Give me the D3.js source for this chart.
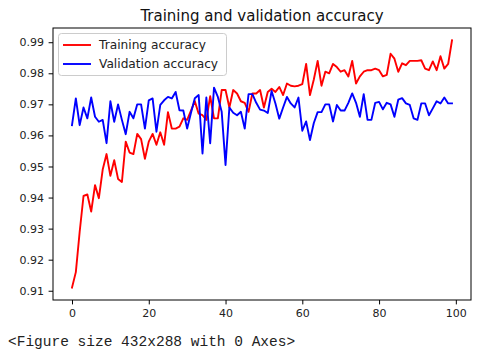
<!DOCTYPE html>
<html><head><meta charset="utf-8">
<script src="https://cdn.jsdelivr.net/npm/d3@7"></script>
<style>
html,body{margin:0;padding:0;background:#fff;}
svg{display:block;}
</style></head>
<body>
<svg id="chart" width="486" height="357"></svg>
<script>
const epochs = d3.range(100);
const trainingAccuracy = [
0.911,0.916,0.929,0.9405,0.941,0.9355,0.944,0.9398,0.949,0.954,
0.947,0.952,0.946,0.945,0.958,0.9545,0.954,0.9605,0.9588,0.9525,
0.958,0.9605,0.957,0.961,0.957,0.9675,0.9622,0.9622,0.9628,0.9655,
0.965,0.968,0.971,0.967,0.9665,0.965,0.9726,0.9655,0.9655,0.9746,
0.9746,0.969,0.9746,0.9735,0.971,0.9705,0.9676,0.9735,0.9735,0.9746,
0.969,0.974,0.975,0.974,0.9756,0.973,0.9767,0.976,0.9758,0.976,
0.9765,0.983,0.973,0.978,0.984,0.976,0.9805,0.980,0.983,0.982,
0.9805,0.981,0.979,0.984,0.9767,0.979,0.9805,0.981,0.981,0.9815,
0.981,0.979,0.9795,0.9863,0.9847,0.9805,0.9832,0.9826,0.984,0.984,
0.984,0.9842,0.9815,0.981,0.9838,0.981,0.9855,0.9815,0.983,0.9906];
const validationAccuracy = [
0.9633,0.9719,0.9633,0.969,0.9655,0.9722,0.966,0.9644,0.965,0.9575,
0.971,0.9644,0.970,0.965,0.9604,0.9676,0.9655,0.970,0.970,0.9622,
0.9713,0.9719,0.9612,0.9698,0.9713,0.9724,0.9719,0.974,0.9681,0.968,
0.9622,0.9673,0.972,0.973,0.9542,0.9722,0.9575,0.9754,0.9724,0.9676,
0.9505,0.969,0.9673,0.9665,0.9676,0.9622,0.9733,0.9733,0.9705,0.9683,
0.968,0.9672,0.9743,0.9703,0.9654,0.969,0.9724,0.9703,0.969,0.9722,
0.9615,0.9645,0.9585,0.964,0.9675,0.9675,0.970,0.970,0.9645,0.9698,
0.968,0.968,0.9705,0.9735,0.9705,0.966,0.9733,0.965,0.965,0.9705,
0.9708,0.9684,0.9705,0.970,0.966,0.9715,0.972,0.9703,0.9698,0.9655,
0.965,0.9703,0.9703,0.9665,0.9687,0.971,0.9703,0.9722,0.9703,0.9703];
const xTicks = [0,20,40,60,80,100];
const yTicks = [0.91,0.92,0.93,0.94,0.95,0.96,0.97,0.98,0.99];
const seriesNames = ["Training accuracy","Validation accuracy"];
const seriesColors = ["#ff0000","#0000ff"];
const titleText = "Training and validation accuracy";
const footerText = "<Figure size 432x288 with 0 Axes>";

const svg = d3.select("#chart");
const L = 53, R = 471, T = 28, B = 300;
const font = "'DejaVu Sans', sans-serif";

const xPad = (99 - 0) * 0.05;
const x = d3.scaleLinear().domain([0 - xPad, 99 + xPad]).range([L, R]);
const all = trainingAccuracy.concat(validationAccuracy);
const yMin = d3.min(all), yMax = d3.max(all), yPad = (yMax - yMin) * 0.05;
const y = d3.scaleLinear().domain([yMin - yPad, yMax + yPad]).range([B, T]);

// lines
const line = d3.line().x((d, i) => x(epochs[i])).y(d => y(d));
[trainingAccuracy, validationAccuracy].forEach((s, k) => {
  svg.append("path").datum(s).attr("d", line)
    .attr("fill", "none").attr("stroke", seriesColors[k])
    .attr("stroke-width", 1.9).attr("stroke-linejoin", "round").attr("stroke-linecap", "square");
});

// axes
const xAxis = d3.axisBottom(x).tickValues(xTicks).tickSize(4.4).tickPadding(4.5).tickFormat(d3.format("d"));
const yAxis = d3.axisLeft(y).tickValues(yTicks).tickSize(4.4).tickPadding(4.5).tickFormat(d3.format(".2f"));
const gx = svg.append("g").attr("transform", `translate(0,${B})`).call(xAxis);
const gy = svg.append("g").attr("transform", `translate(${L},0)`).call(yAxis);
[gx, gy].forEach(g => {
  g.select(".domain").remove();
  g.selectAll(".tick line").attr("stroke", "#000").attr("stroke-width", 1);
  g.selectAll(".tick text").attr("font-family", font).attr("font-size", 11).attr("fill", "#222");
});

// frame
svg.append("rect").attr("x", L).attr("y", T).attr("width", R - L).attr("height", B - T)
  .attr("fill", "none").attr("stroke", "#000").attr("stroke-width", 1);

// title
svg.append("text").attr("x", (L + R) / 2).attr("y", 21).attr("text-anchor", "middle")
  .attr("font-family", font).attr("font-size", 15).attr("fill", "#111").text(titleText);

// legend
const lg = svg.append("g");
lg.append("rect").attr("x", 58.5).attr("y", 33.5).attr("width", 168).attr("height", 42).attr("rx", 3)
  .attr("fill", "#fff").attr("fill-opacity", 0.8).attr("stroke", "#ccc").attr("stroke-width", 1);
seriesNames.forEach((n, k) => {
  const yy = 45 + k * 19;
  lg.append("line").attr("x1", 63).attr("x2", 91).attr("y1", yy).attr("y2", yy)
    .attr("stroke", seriesColors[k]).attr("stroke-width", 1.9);
  lg.append("text").attr("x", 99).attr("y", yy + 4.4).attr("font-family", font).attr("font-size", 12.2)
    .attr("fill", "#222").text(n);
});

// footer
svg.append("text").attr("x", 8).attr("y", 346).attr("font-family", "'Liberation Mono', monospace")
  .attr("font-size", 14.5).attr("fill", "#222").text(footerText);
</script>
</body></html>
